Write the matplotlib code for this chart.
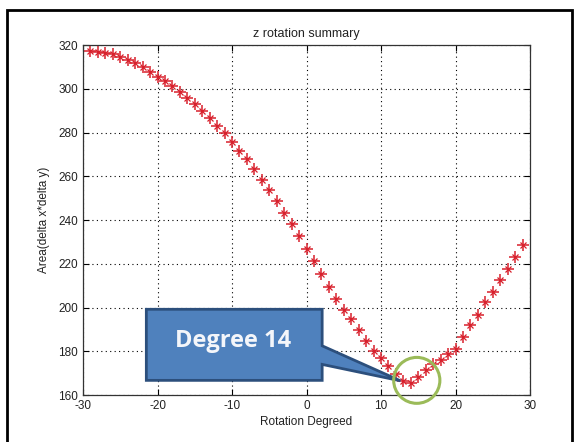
import matplotlib
matplotlib.use("Agg")
import matplotlib.pyplot as plt
import matplotlib.patches as mpatches

# rotation angle (deg) and measured area
degrees = list(range(-29, 30))
area = [317.4, 317.0, 316.6, 315.9, 314.4, 313.4, 311.6, 309.8, 307.8, 305.5,
        303.7, 301.2, 298.6, 295.9, 293.0, 290.0, 286.6, 283.1, 279.6, 275.7,
        271.6, 267.7, 263.4, 258.2, 253.6, 248.5, 243.4, 238.4, 232.6, 226.6,
        221.3, 215.2, 209.4, 204.1, 198.8, 194.7, 189.5, 184.7, 180.1, 176.8,
        173.1, 169.8, 166.2, 165.5, 168.4, 171.3, 174.0, 176.2, 178.8, 181.2,
        186.5, 191.9, 196.8, 202.5, 207.1, 212.4, 217.8, 223.1, 228.5]
xticks = [-30, -20, -10, 0, 10, 20, 30]
yticks = [160, 180, 200, 220, 240, 260, 280, 300, 320]
best_deg = 14
callout_text = "Degree 14"

plt.rcParams['font.family'] = ['Liberation Sans', 'DejaVu Sans']
plt.rcParams['axes.unicode_minus'] = False

fig = plt.figure(figsize=(5.78, 4.42), dpi=100)
ax = fig.add_axes([0.1436, 0.1063, 0.7734, 0.7917])

# matlab style asterisk: plus + small cross
ax.plot(degrees, area, ls='none', marker='+', ms=8, mew=1.1,
        color='#d8202c')
ax.plot(degrees, area, ls='none', marker='x', ms=4.5, mew=0.9,
        color='#d8202c')

ax.set_xlim(-30, 30)
ax.set_ylim(160, 320)
ax.set_xticks(xticks)
ax.set_yticks(yticks)
ax.tick_params(direction='in', top=True, right=True, length=4,
               labelsize=8.5, labelcolor='#222222', width=0.8)
ax.grid(True, ls=(0, (1, 3)), color='black', lw=0.8)
for s in ax.spines.values():
    s.set_linewidth(0.9)
    s.set_color('#333333')

ax.set_title("z rotation summary", fontsize=9, color='#222222', pad=6)
ax.set_xlabel("Rotation Degreed", fontsize=8.5, color='#222222', labelpad=3)
ax.set_ylabel("Area(delta x*delta y)", fontsize=8.5, color='#222222',
              labelpad=6)

# callout box pointing at the minimum
box = [(-21.5, 199.2), (2.1, 199.2), (2.1, 182.5), (best_deg - 1.4, 166.5),
       (2.1, 174.0), (2.1, 166.7), (-21.5, 166.7)]
ax.add_patch(mpatches.Polygon(box, closed=True, facecolor='#4f81bd',
                              edgecolor='#2c4f7c', lw=2, zorder=5,
                              clip_on=False))
ax.text(-9.8, 184.5, callout_text, fontsize=17, fontweight='bold',
        family=['Open Sans', 'DejaVu Sans'], color='#f4f6fa',
        ha='center', va='center', zorder=6)

ax.add_patch(mpatches.Ellipse((14.8, 166.7), 6.2, 21.0, fill=False,
                              edgecolor='#9bbb59', lw=2.2, zorder=7,
                              clip_on=False))

# outer frame
fig.add_artist(mpatches.Rectangle((7 / 578, -0.05), 565 / 578, 1.05 - 10 / 442,
                                  transform=fig.transFigure, fill=False,
                                  edgecolor='black', lw=2))

fig.savefig("out.png", dpi=100)
